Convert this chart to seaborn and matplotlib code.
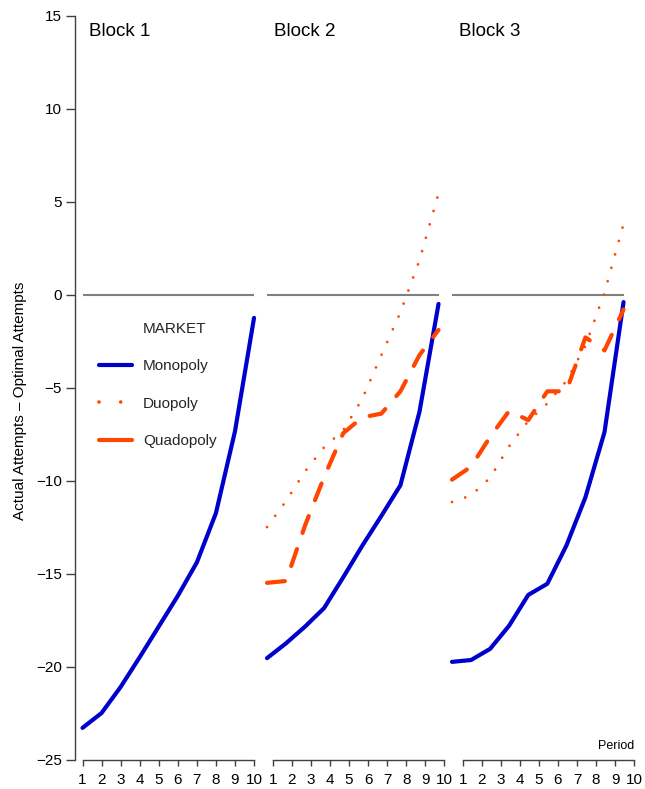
"""Actual minus optimal attempts by period, three blocks, by market type."""

import matplotlib

matplotlib.use("Agg")
import matplotlib.pyplot as plt
import pandas as pd
import seaborn as sns
from matplotlib.lines import Line2D

PERIODS = list(range(1, 11))
BLOCKS = ["Block 1", "Block 2", "Block 3"]
MARKETS = ["Monopoly", "Duopoly", "Quadopoly"]
Y_TICKS = [-25, -20, -15, -10, -5, 0, 5, 10, 15]

# one list per block, None where the market was not run
MONOPOLY = [
    [-23.3, -22.5, -21.1, -19.5, -17.85, -16.2, -14.4, -11.75, -7.35, -1.25],
    [-19.55, -18.75, -17.85, -16.85, -15.2, -13.5, -11.9, -10.25, -6.3, -0.5],
    [-19.75, -19.65, -19.05, -17.8, -16.15, -15.55, -13.5, -10.9, -7.4, -0.4],
]
DUOPOLY = [
    None,
    [-12.5, -11.1, -9.5, -8.2, -7.3, -5.6, -3.25, -0.95, 1.85, 5.45],
    [-11.15, -10.8, -9.85, -8.15, -6.8, -5.85, -4.65, -2.75, 0.1, 3.8],
]
QUADOPOLY = [
    None,
    [-15.5, -15.4, -12.4, -9.8, -7.45, -6.6, -6.4, -5.2, -3.25, -1.9],
    [-9.95, -9.25, -7.65, -6.25, -6.75, -5.2, -5.2, -2.3, -3.0, -0.8],
]

COLORS = {
    "Monopoly": "#0000cc",
    "Duopoly": "#ff4500",
    "Quadopoly": "#ff4500",
    "zero": "#808080",
    "axis": "#404040",
}
LINE_STYLES = {
    "Monopoly": dict(linewidth=3.0, linestyle="-"),
    "Duopoly": dict(linewidth=2.0, linestyle=(0, (0.01, 5.0)), dash_capstyle="round"),
    "Quadopoly": dict(linewidth=3.0, linestyle=(0, (4.3, 4.1)), dash_capstyle="round"),
}

# layout in pixels of the 645x789 canvas
FIG_W, FIG_H = 645, 789
PX_PER_UNIT = 19.06
FIRST_PERIOD_PX = [82.5, 267.0, 452.0]
TICK_SHIFT = [0.0, 0.3, 0.56]
Y_TOP_PX, Y_BOTTOM_PX = 15.7, 759.5


def build_frame() -> pd.DataFrame:
    rows = []
    for market, series in zip(MARKETS, [MONOPOLY, DUOPOLY, QUADOPOLY]):
        for block, values in zip(BLOCKS, series):
            if values is None:
                continue
            for period, value in zip(PERIODS, values):
                rows.append({"block": block, "market": market, "period": period, "gap": value})
    return pd.DataFrame(rows)


def add_panel(fig, i):
    left_px = FIRST_PERIOD_PX[i] - 0.4 * PX_PER_UNIT
    ax = fig.add_axes([
        left_px / FIG_W,
        (FIG_H - Y_BOTTOM_PX) / FIG_H,
        10.4 * PX_PER_UNIT / FIG_W,
        (Y_BOTTOM_PX - Y_TOP_PX) / FIG_H,
    ])
    ax.set_xlim(0.6, 11.0)
    ax.set_ylim(-25, 15)
    ax.patch.set_alpha(0)
    ax.grid(False)
    return ax


def main() -> None:
    sns.set_theme(style="white")
    plt.rcParams["font.family"] = ["Liberation Sans", "DejaVu Sans"]

    df = build_frame()
    fig = plt.figure(figsize=(FIG_W / 100, FIG_H / 100), dpi=100)

    for i, block in enumerate(BLOCKS):
        ax = add_panel(fig, i)
        sub = df[df["block"] == block]
        ax.hlines(0, min(PERIODS), max(PERIODS), color=COLORS["zero"], linewidth=1.5, zorder=1)

        for market in MARKETS:
            part = sub[sub["market"] == market]
            if part.empty:
                continue
            sns.lineplot(
                data=part, x="period", y="gap", ax=ax, color=COLORS[market],
                errorbar=None, solid_capstyle="round", **LINE_STYLES[market],
            )

        shift = TICK_SHIFT[i]
        ax.set_xticks([p + shift for p in PERIODS], [str(p) for p in PERIODS])
        ax.spines["bottom"].set_bounds(min(PERIODS) + shift, max(PERIODS) + shift)
        ax.spines["bottom"].set_color(COLORS["axis"])
        ax.spines["bottom"].set_linewidth(1.0)
        ax.tick_params(axis="x", bottom=True, direction="out", length=4.3, width=1.0,
                       color=COLORS["axis"], labelsize=11, pad=5.5, labelcolor="black")
        ax.spines["top"].set_visible(False)
        ax.spines["right"].set_visible(False)
        ax.set_xlabel("")
        ax.set_ylabel("")

        if i == 0:
            ax.set_yticks(Y_TICKS)
            ax.spines["left"].set_color(COLORS["axis"])
            ax.spines["left"].set_linewidth(1.0)
            ax.tick_params(axis="y", left=True, direction="out", length=6.5, width=1.0,
                           color=COLORS["axis"], labelsize=11, pad=3, labelcolor="black")
        else:
            ax.spines["left"].set_visible(False)
            ax.set_yticks([])

        ax.text(1.35, 14.62, block, ha="left", va="top", fontsize=13.5, color="black")

        if i == len(BLOCKS) - 1:
            ax.text(max(PERIODS) + shift, -24.6, "Period", ha="right", va="bottom",
                    fontsize=9, color="black")

    fig.text(20 / FIG_W, 1 - 401 / FIG_H, "Actual Attempts \u2013 Optimal Attempts",
             rotation=90, ha="center", va="center", fontsize=11, color="black")

    handles = [
        Line2D([], [], color="none"),
        Line2D([], [], color=COLORS["Monopoly"], linewidth=3.0, solid_capstyle="round"),
        Line2D([], [], color=COLORS["Duopoly"], linewidth=2.6, linestyle=(0, (0.01, 6.0)),
               dash_capstyle="round"),
        Line2D([], [], color=COLORS["Quadopoly"], linewidth=3.0, solid_capstyle="round"),
    ]
    fig.legend(
        handles, ["MARKET"] + MARKETS,
        loc="upper left", bbox_to_anchor=(99 / FIG_W, 1 - 322 / FIG_H),
        bbox_transform=fig.transFigure, frameon=False, fontsize=11,
        handlelength=2.16, handletextpad=0.72, labelspacing=1.53,
        borderpad=0, borderaxespad=0,
    )

    fig.savefig("out.png", dpi=100)
    plt.close(fig)


if __name__ == "__main__":
    main()
